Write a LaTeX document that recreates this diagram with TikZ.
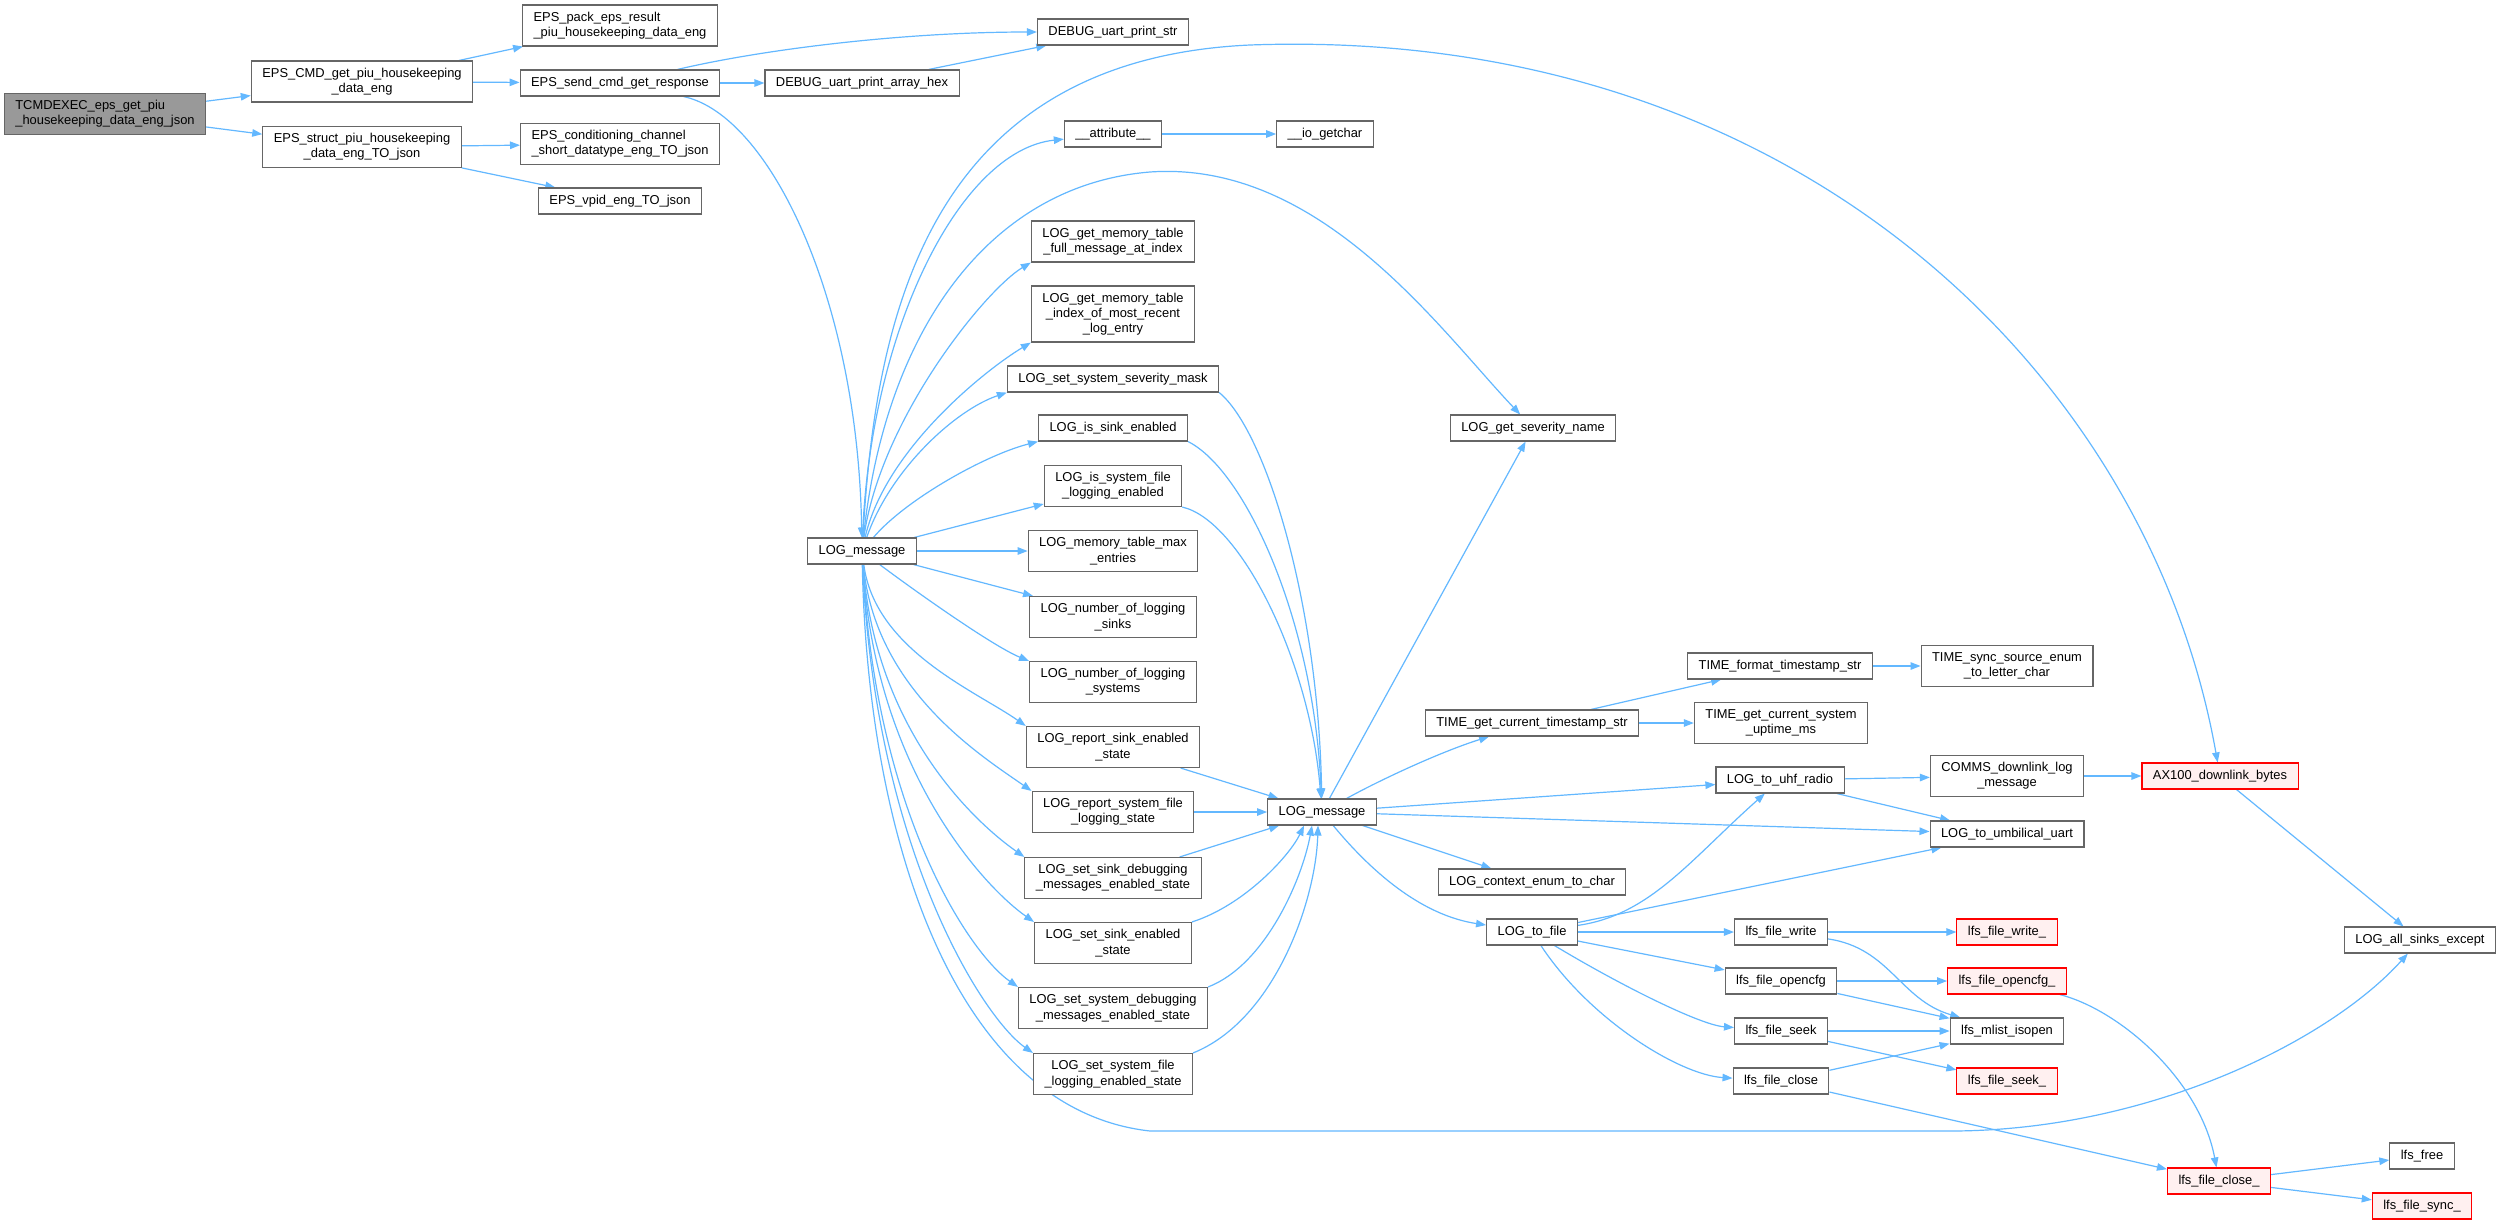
\documentclass[tikz,border=0pt]{standalone}
\usepackage{fontspec}
\setmainfont{Liberation Sans}
\usetikzlibrary{arrows.meta,backgrounds}
\definecolor{edgeblue}{HTML}{63B8FF}
\definecolor{boxgray}{HTML}{666666}
\definecolor{rootgray}{HTML}{999999}
\definecolor{missred}{HTML}{FF0000}
\definecolor{missfill}{HTML}{FFF0F0}
\begin{document}
\begin{tikzpicture}[x=1pt, y=1pt,
	fn/.style={draw=boxgray, fill=white, line width=1.1pt, inner xsep=11pt,
		inner ysep=0pt, minimum height=26pt, align=center,
		font=\fontsize{12.9}{15.3}\selectfont},
	two/.style={minimum height=41pt},
	three/.style={minimum height=56pt},
	rootfn/.style={fill=rootgray},
	ext/.style={draw=missred, fill=missfill},
	call/.style={draw=edgeblue, line width=1.2pt,
		-{Triangle[length=10pt,width=7.5pt]}}]
\useasboundingbox (0,0) rectangle (2503,-1224);
\node[fn,two,rootfn,align=left] (root) at (105,-114) {TCMDEXEC\_eps\_get\_piu\\\_housekeeping\_data\_eng\_json};
\node[fn,two] (cmd) at (362,-81.5) {EPS\_CMD\_get\_piu\_housekeeping\\\_data\_eng};
\node[fn,two] (struct) at (362,-147) {EPS\_struct\_piu\_housekeeping\\\_data\_eng\_TO\_json};
\node[fn,two,align=left] (pack) at (620,-25.5) {EPS\_pack\_eps\_result\\\_piu\_housekeeping\_data\_eng};
\node[fn] (send) at (620,-83) {EPS\_send\_cmd\_get\_response};
\node[fn,two,align=left] (cond) at (620,-144) {EPS\_conditioning\_channel\\\_short\_datatype\_eng\_TO\_json};
\node[fn] (vpid) at (620,-201) {EPS\_vpid\_eng\_TO\_json};
\node[fn] (dhex) at (862,-83) {DEBUG\_uart\_print\_array\_hex};
\node[fn] (dstr) at (1113,-32) {DEBUG\_uart\_print\_str};
\node[fn] (msg1) at (862,-551) {LOG\_message};
\node[fn] (attr) at (1113,-134) {\_\_attribute\_\_};
\node[fn] (getc) at (1325,-134) {\_\_io\_getchar};
\node[fn,two] (mfull) at (1113,-241.5) {LOG\_get\_memory\_table\\\_full\_message\_at\_index};
\node[fn,three] (midx) at (1113,-314) {LOG\_get\_memory\_table\\\_index\_of\_most\_recent\\\_log\_entry};
\node[fn] (sevmask) at (1113,-379) {LOG\_set\_system\_severity\_mask};
\node[fn] (issink) at (1113,-428) {LOG\_is\_sink\_enabled};
\node[fn,two] (issys) at (1113,-486) {LOG\_is\_system\_file\\\_logging\_enabled};
\node[fn,two] (memmax) at (1113,-551) {LOG\_memory\_table\_max\\\_entries};
\node[fn,two] (nsinks) at (1113,-617) {LOG\_number\_of\_logging\\\_sinks};
\node[fn,two] (nsys) at (1113,-682) {LOG\_number\_of\_logging\\\_systems};
\node[fn,two] (rsink) at (1113,-747) {LOG\_report\_sink\_enabled\\\_state};
\node[fn,two] (rsys) at (1113,-812) {LOG\_report\_system\_file\\\_logging\_state};
\node[fn,two] (ssdbg) at (1113,-878) {LOG\_set\_sink\_debugging\\\_messages\_enabled\_state};
\node[fn,two] (ssen) at (1113,-943) {LOG\_set\_sink\_enabled\\\_state};
\node[fn,two] (sysdbg) at (1113,-1008) {LOG\_set\_system\_debugging\\\_messages\_enabled\_state};
\node[fn,two] (sysfile) at (1113,-1074) {LOG\_set\_system\_file\\\_logging\_enabled\_state};
\node[fn] (msg2) at (1322,-812) {LOG\_message};
\node[fn] (sev) at (1533,-428) {LOG\_get\_severity\_name};
\node[fn] (tstr) at (1532,-723) {TIME\_get\_current\_timestamp\_str};
\node[fn] (ctx) at (1532,-882) {LOG\_context\_enum\_to\_char};
\node[fn] (tofile) at (1532,-932) {LOG\_to\_file};
\node[fn] (tfmt) at (1780,-666) {TIME\_format\_timestamp\_str};
\node[fn,two] (tup) at (1781,-723) {TIME\_get\_current\_system\\\_uptime\_ms};
\node[fn] (uhf) at (1780,-780) {LOG\_to\_uhf\_radio};
\node[fn] (fwrite) at (1781,-932) {lfs\_file\_write};
\node[fn] (fopen) at (1781,-981) {lfs\_file\_opencfg};
\node[fn] (fseek) at (1781,-1031) {lfs\_file\_seek};
\node[fn] (fclose) at (1781,-1081) {lfs\_file\_close};
\node[fn,two] (tsync) at (2007,-666) {TIME\_sync\_source\_enum\\\_to\_letter\_char};
\node[fn,two] (comms) at (2007,-776) {COMMS\_downlink\_log\\\_message};
\node[fn] (umb) at (2007,-834) {LOG\_to\_umbilical\_uart};
\node[fn,ext] (fwriteu) at (2007,-932) {lfs\_file\_write\_};
\node[fn,ext] (fopenu) at (2007,-981) {lfs\_file\_opencfg\_};
\node[fn] (mlist) at (2007,-1031) {lfs\_mlist\_isopen};
\node[fn,ext] (fseeku) at (2007,-1081) {lfs\_file\_seek\_};
\node[fn,ext] (ax) at (2220,-776) {AX100\_downlink\_bytes};
\node[fn,ext] (fcloseu) at (2219,-1181) {lfs\_file\_close\_};
\node[fn] (alls) at (2420,-940) {LOG\_all\_sinks\_except};
\node[fn] (lfsfree) at (2422,-1156) {lfs\_free};
\node[fn,ext] (fsyncu) at (2422,-1206) {lfs\_file\_sync\_};
\begin{scope}[on background layer]
\fill[white] (0,0) rectangle (2503,-1224);
\draw[call] (root) -- (cmd);
\draw[call] (root) -- (struct);
\draw[call] (cmd) -- (pack);
\draw[call] (cmd) -- (send);
\draw[call] (struct) -- (cond);
\draw[call] (struct) -- (vpid);
\draw[call] (send) -- (dhex);
\draw[call] (send) .. controls (760,-50) and (900,-32) .. (dstr);
\draw[call] (dhex) -- (dstr);
\draw[call] (send) .. controls (770,-115) and (858,-300) .. (msg1);
\draw[call] (attr) -- (getc);
\draw[call] (msg1) .. controls (875,-330) and (920,-60) .. (1250,-45)
	.. controls (1800,-25) and (2150,-380) .. (ax);
\draw[call] (msg1) .. controls (870,-330) and (960,-150) .. (attr);
\draw[call] (msg1) .. controls (885,-330) and (990,-185) .. (1150,-172)
	.. controls (1320,-160) and (1440,-330) .. (sev);
\draw[call] (msg1) .. controls (880,-420) and (985,-290) .. (mfull.south west);
\draw[call] (msg1) .. controls (885,-450) and (985,-370) .. (midx.south west);
\draw[call] (msg1) .. controls (890,-470) and (955,-410) .. (sevmask.south west);
\draw[call] (msg1) .. controls (905,-500) and (985,-455) .. (issink.south west);
\draw[call] (msg1) -- (issys);
\draw[call] (msg1) -- (memmax);
\draw[call] (msg1) -- (nsinks);
\draw[call] (msg1) .. controls (900,-580) and (990,-645) .. (nsys.north west);
\foreach \t/\c in {rsink/-650,rsys/-690,ssdbg/-730,ssen/-770,sysdbg/-810,sysfile/-850}
	\draw[call] (msg1) .. controls (875,\c) and +(-50,35) .. (\t.north west);
\draw[call] (msg1) .. controls (868,-850) and (960,-1110) .. (1150,-1131)
	-- (1950,-1131) .. controls (2150,-1131) and (2330,-1040) .. (alls);
\draw[call] (sevmask.south east) .. controls (1265,-430) and (1318,-600) .. (msg2);
\draw[call] (issink.south east) .. controls (1245,-470) and (1314,-620) .. (msg2);
\draw[call] (issys.south east) .. controls (1240,-520) and (1310,-660) .. (msg2);
\draw[call] (rsink) -- (msg2);
\draw[call] (rsys) -- (msg2);
\draw[call] (ssdbg) -- (msg2);
\draw[call] (ssen.north east) .. controls (1245,-905) and (1290,-855) .. ([xshift=-18pt]msg2.south);
\draw[call] (sysdbg.north east) .. controls (1265,-965) and (1302,-880) .. ([xshift=-10pt]msg2.south);
\draw[call] (sysfile.north east) .. controls (1275,-1020) and (1316,-900) .. ([xshift=-4pt]msg2.south);
\draw[call] (msg2) -- (sev);
\draw[call] (msg2) .. controls (1380,-780) and (1440,-752) .. (tstr);
\draw[call] (msg2) -- (uhf);
\draw[call] (msg2) -- (umb);
\draw[call] (msg2) -- (ctx);
\draw[call] (msg2) .. controls (1370,-870) and (1420,-915) .. (tofile);
\draw[call] (tstr) -- (tfmt);
\draw[call] (tstr) -- (tup);
\draw[call] (tfmt) -- (tsync);
\draw[call] (uhf) -- (comms);
\draw[call] (uhf) -- (umb);
\draw[call] (comms) -- (ax);
\draw[call] (ax) -- (alls);
\draw[call] (tofile) .. controls (1650,-915) and (1690,-860) .. (uhf);
\draw[call] (tofile) -- (umb);
\draw[call] (tofile) -- (fwrite);
\draw[call] (tofile) -- (fopen);
\draw[call] (tofile) .. controls (1620,-985) and (1700,-1025) .. (fseek);
\draw[call] (tofile) .. controls (1590,-1020) and (1680,-1075) .. (fclose);
\draw[call] (fwrite) -- (fwriteu);
\draw[call] (fwrite) .. controls (1890,-948) and (1900,-1000) .. (mlist);
\draw[call] (fopen) -- (fopenu);
\draw[call] (fopen) -- (mlist);
\draw[call] (fseek) -- (mlist);
\draw[call] (fseek) -- (fseeku);
\draw[call] (fclose) -- (mlist);
\draw[call] (fclose) -- (fcloseu);
\draw[call] (fopenu) .. controls (2120,-1010) and (2200,-1080) .. (fcloseu);
\draw[call] (fcloseu) -- (lfsfree);
\draw[call] (fcloseu) -- (fsyncu);
\end{scope}
\end{tikzpicture}
\end{document}
